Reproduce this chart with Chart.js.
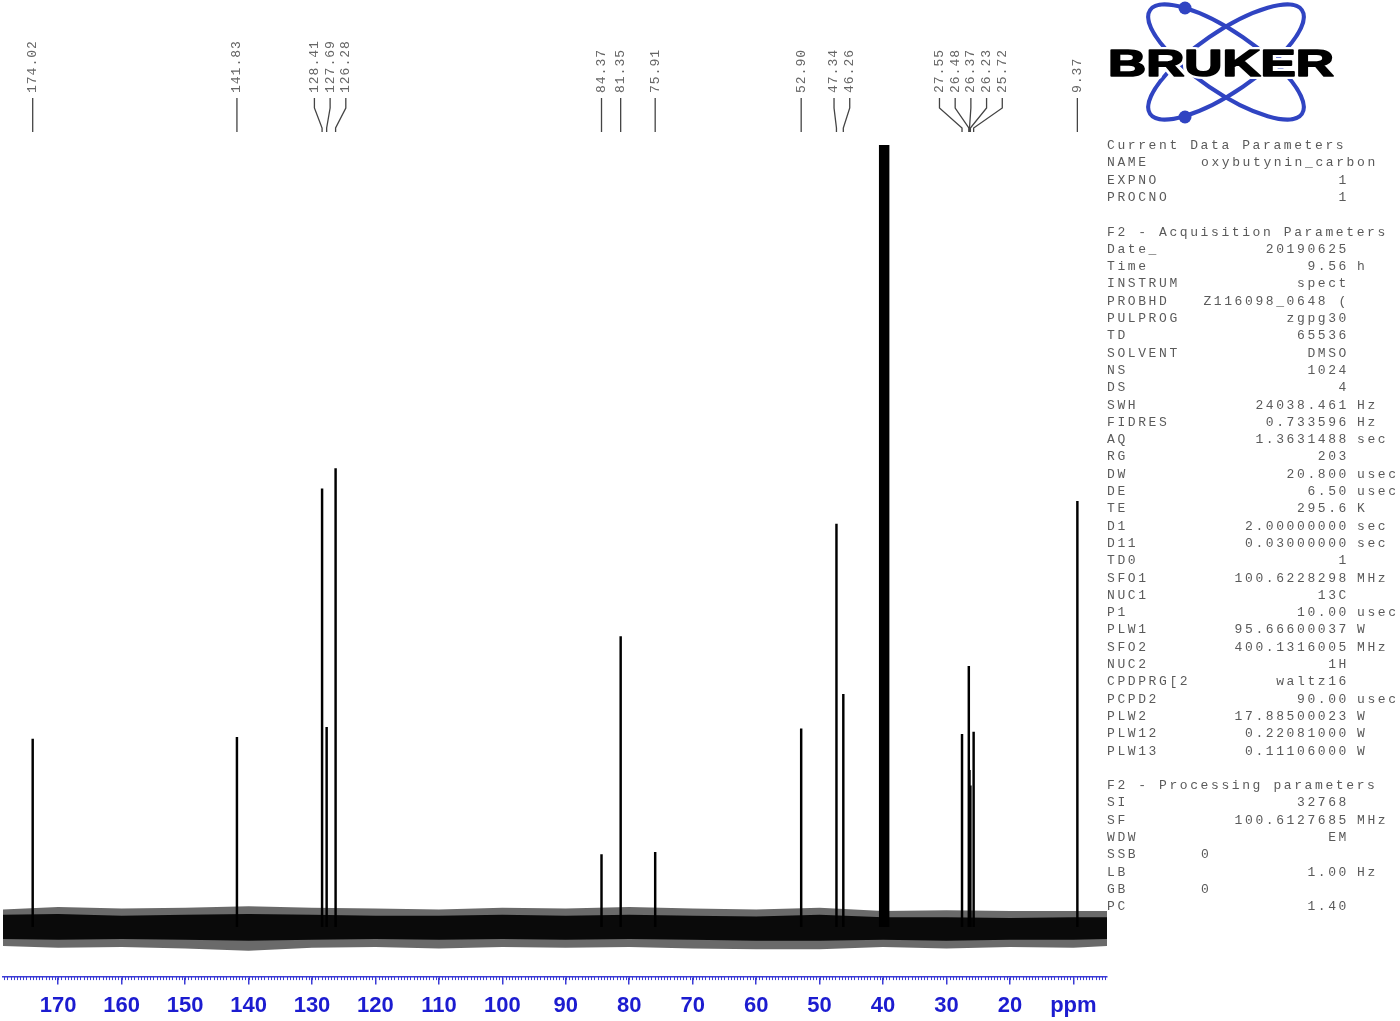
<!DOCTYPE html>
<html>
<head>
<meta charset="utf-8">
<title>oxybutynin 13C</title>
<script src="https://cdn.jsdelivr.net/npm/chart.js@4.4.1/dist/chart.umd.min.js"></script>
<style>
  body { margin: 0; background: #fff; }
  #wrap { position: relative; width: 1400px; height: 1021px; overflow: hidden; }
  #spec { position: absolute; left: 0; top: 0; }
  #params { position: absolute; left: 0; top: 0; width: 1400px; height: 1021px;
    font-family: "Liberation Mono", "DejaVu Sans Mono", monospace; font-size: 13px;
    color: #5a5a5a; letter-spacing: 2.6px; pointer-events: none; }
  .cell { position: absolute; height: 16px; line-height: 16px; white-space: pre; }
</style>
</head>
<body>
<div id="wrap">
  <canvas id="spec" width="1400" height="1021"></canvas>
  <div id="params"></div>
</div>
<script>
// x range of the plot (ppm, reversed)
const ppmMin = 4.7;
const ppmMax = 178.7;

// peaks: position (ppm) and height (relative, 100 = top of plot)
const peakPpm = [174.02, 141.83, 128.41, 127.69, 126.28, 84.37, 81.35, 75.91, 52.90, 47.34, 46.26,
  40.45, 40.24, 40.03, 39.82, 39.61, 39.40, 39.19,
  27.55, 26.48, 26.37, 26.23, 25.72, 9.37];
const peakHeight = [24.0, 24.2, 56.0, 25.5, 58.6, 9.2, 37.1, 9.5, 25.3, 51.5, 29.7,
  110, 250, 500, 600, 500, 250, 110,
  24.6, 33.3, 20.0, 18.0, 24.9, 54.4];

// peak picking labels at the top
const labelPpm = [174.02, 141.83, 128.41, 127.69, 126.28, 84.37, 81.35, 75.91, 52.90, 47.34, 46.26,
  27.55, 26.48, 26.37, 26.23, 25.72, 9.37];
const labelText = ["174.02", "141.83", "128.41", "127.69", "126.28", "84.37", "81.35", "75.91",
  "52.90", "47.34", "46.26", "27.55", "26.48", "26.37", "26.23", "25.72", "9.37"];

// axis tick labels
const tickValues = [170, 160, 150, 140, 130, 120, 110, 100, 90, 80, 70, 60, 50, 40, 30, 20, 10];

// baseline noise envelope
const noisePpm = [178.7, 170, 160, 150, 140, 130, 120, 110, 100, 90, 80, 70, 60, 50, 40, 30, 20, 10, 4.7];
const noiseHi  = [1.5, 1.6, 1.4, 1.5, 1.6, 1.5, 1.4, 1.4, 1.5, 1.4, 1.5, 1.4, 1.3, 1.5, 1.2, 1.2, 1.1, 1.2, 1.2];
const noiseLo  = [-1.6, -1.7, -1.6, -1.7, -1.8, -1.7, -1.6, -1.7, -1.6, -1.7, -1.6, -1.7, -1.8, -1.8, -1.7, -1.8, -1.7, -1.7, -1.6];
const spikeHi  = [2.2, 2.5, 2.3, 2.4, 2.6, 2.4, 2.3, 2.2, 2.4, 2.3, 2.5, 2.3, 2.2, 2.4, 2.0, 2.1, 2.0, 2.0, 2.0];
const spikeLo  = [-2.5, -2.7, -2.6, -2.8, -3.1, -2.7, -2.6, -2.8, -2.6, -2.7, -2.6, -2.8, -2.9, -2.9, -2.6, -2.8, -2.6, -2.7, -2.5];

// acquisition / processing parameters panel
const paramRows = [
  ["Current Data Parameters"],
  ["NAME", "oxybutynin_carbon", "", "left"],
  ["EXPNO", "1"],
  ["PROCNO", "1"],
  null,
  ["F2 - Acquisition Parameters"],
  ["Date_", "20190625"],
  ["Time", "9.56", "h"],
  ["INSTRUM", "spect"],
  ["PROBHD", "Z116098_0648 ("],
  ["PULPROG", "zgpg30"],
  ["TD", "65536"],
  ["SOLVENT", "DMSO"],
  ["NS", "1024"],
  ["DS", "4"],
  ["SWH", "24038.461", "Hz"],
  ["FIDRES", "0.733596", "Hz"],
  ["AQ", "1.3631488", "sec"],
  ["RG", "203"],
  ["DW", "20.800", "usec"],
  ["DE", "6.50", "usec"],
  ["TE", "295.6", "K"],
  ["D1", "2.00000000", "sec"],
  ["D11", "0.03000000", "sec"],
  ["TD0", "1"],
  ["SFO1", "100.6228298", "MHz"],
  ["NUC1", "13C"],
  ["P1", "10.00", "usec"],
  ["PLW1", "95.66600037", "W"],
  ["SFO2", "400.1316005", "MHz"],
  ["NUC2", "1H"],
  ["CPDPRG[2", "waltz16"],
  ["PCPD2", "90.00", "usec"],
  ["PLW2", "17.88500023", "W"],
  ["PLW12", "0.22081000", "W"],
  ["PLW13", "0.11106000", "W"],
  null,
  ["F2 - Processing parameters"],
  ["SI", "32768"],
  ["SF", "100.6127685", "MHz"],
  ["WDW", "EM"],
  ["SSB", "0", "", "mid"],
  ["LB", "1.00", "Hz"],
  ["GB", "0", "", "mid"],
  ["PC", "1.40"]
];

// build the text panel
const params = document.getElementById("params");
paramRows.forEach((row, i) => {
  if (!row) return;
  const top = 146 + i * 17.3 - 8;
  const add = (txt, style) => {
    const d = document.createElement("div");
    d.className = "cell";
    d.textContent = txt;
    d.style.top = top + "px";
    Object.assign(d.style, style);
    params.appendChild(d);
  };
  add(row[0], { left: "1107px" });
  if (row[1] === undefined) return;
  if (row[3] === "left" || row[3] === "mid") add(row[1], { left: "1201px" });
  else add(row[1], { left: "1100px", width: "249px", textAlign: "right" });
  if (row[2]) add(row[2], { left: "1357px" });
});

// minor ticks, peak labels and logo
const decorPlugin = {
  id: "decor",
  afterDraw(chart) {
    const ctx = chart.ctx;
    const xs = chart.scales.x;
    const axisY = chart.chartArea.bottom;

    // minor ticks every 0.5 ppm
    ctx.save();
    ctx.strokeStyle = "#3b3bd6";
    ctx.lineWidth = 1;
    for (let v = 5; v <= 178.5; v += 0.5) {
      const px = Math.round(xs.getPixelForValue(v)) + 0.5;
      ctx.beginPath();
      ctx.moveTo(px, axisY);
      ctx.lineTo(px, axisY + 3.5);
      ctx.stroke();
    }
    ctx.restore();

    // peak labels with leader lines
    const gap = 15.7;
    const items = labelPpm.map((p, i) => ({ text: labelText[i], px: xs.getPixelForValue(p) }));
    items.sort((a, b) => a.px - b.px);
    const groups = [];
    items.forEach(it => {
      const g = groups[groups.length - 1];
      if (g && it.px - g[g.length - 1].px < gap) g.push(it);
      else groups.push([it]);
    });
    groups.forEach(g => {
      const mean = g.reduce((s, it) => s + it.px, 0) / g.length;
      g.forEach((it, k) => { it.lx = mean + 2 + (k - (g.length - 1) / 2) * gap; });
      if (g.length === 1) g[0].lx = g[0].px;
    });
    ctx.save();
    ctx.strokeStyle = "#444";
    ctx.lineWidth = 1.3;
    items.forEach(it => {
      ctx.beginPath();
      ctx.moveTo(it.lx, 98);
      if (Math.abs(it.lx - it.px) < 1) {
        ctx.lineTo(it.px, 132);
      } else {
        ctx.lineTo(it.lx, 108);
        ctx.lineTo(it.px, 128);
        ctx.lineTo(it.px, 132);
      }
      ctx.stroke();
      ctx.save();
      ctx.translate(it.lx, 93);
      ctx.rotate(-Math.PI / 2);
      ctx.font = '13px "Liberation Mono"';
      ctx.letterSpacing = "1px";
      ctx.fillStyle = "#666";
      ctx.textAlign = "left";
      ctx.textBaseline = "middle";
      ctx.fillText(it.text, 0, 0);
      ctx.restore();
    });
    ctx.restore();

    // Bruker logo
    ctx.save();
    ctx.strokeStyle = "#3044c2";
    ctx.lineWidth = 4;
    ctx.beginPath();
    ctx.ellipse(1226, 62, 92, 30, 0.6, 0, 2 * Math.PI);
    ctx.stroke();
    ctx.beginPath();
    ctx.ellipse(1226, 62, 92, 30, -0.6, 0, 2 * Math.PI);
    ctx.stroke();
    ctx.fillStyle = "#3044c2";
    ctx.beginPath(); ctx.arc(1185, 8, 6.5, 0, 2 * Math.PI); ctx.fill();
    ctx.beginPath(); ctx.arc(1185, 117, 6.5, 0, 2 * Math.PI); ctx.fill();
    ctx.font = 'bold 36px "Liberation Sans"';
    const w = ctx.measureText("BRUKER").width;
    ctx.translate(1108, 76);
    ctx.scale(226 / w, 1);
    ctx.lineJoin = "round";
    ctx.strokeStyle = "#fff";
    ctx.lineWidth = 6;
    ctx.strokeText("BRUKER", 0, 0);
    ctx.fillStyle = "#000";
    ctx.fillText("BRUKER", 0, 0);
    ctx.strokeStyle = "#000";
    ctx.lineWidth = 1.6;
    ctx.strokeText("BRUKER", 0, 0);
    ctx.restore();
  }
};

const toXY = (xArr, yArr) => xArr.map((x, i) => ({ x: x, y: yArr[i] }));

new Chart(document.getElementById("spec"), {
  type: "bar",
  data: {
    datasets: [
      {
        type: "bar",
        data: toXY(peakPpm, peakHeight),
        backgroundColor: "#000",
        barThickness: 1.8,
        order: 0
      },
      {
        type: "line",
        data: toXY(noisePpm, spikeHi),
        borderWidth: 0,
        pointRadius: 0,
        backgroundColor: "#6a6a6a",
        fill: "+1",
        order: 2
      },
      {
        type: "line",
        data: toXY(noisePpm, spikeLo),
        borderWidth: 0,
        pointRadius: 0,
        fill: false,
        order: 2
      },
      {
        type: "line",
        data: toXY(noisePpm, noiseHi),
        borderWidth: 0,
        pointRadius: 0,
        backgroundColor: "#0a0a0a",
        fill: "+1",
        order: 1
      },
      {
        type: "line",
        data: toXY(noisePpm, noiseLo),
        borderWidth: 0,
        pointRadius: 0,
        fill: false,
        order: 1
      }
    ]
  },
  options: {
    responsive: false,
    animation: false,
    layout: { padding: { left: 3, right: 293, top: 145, bottom: -6 } },
    plugins: { legend: { display: false }, tooltip: { enabled: false } },
    scales: {
      x: {
        type: "linear",
        reverse: true,
        offset: false,
        min: ppmMin,
        max: ppmMax,
        border: { color: "#3b3bd6", width: 1.5 },
        grid: { offset: false, drawOnChartArea: false, color: "#3b3bd6", tickLength: 8, lineWidth: 1.5 },
        afterBuildTicks: scale => { scale.ticks = tickValues.map(v => ({ value: v })); },
        ticks: {
          autoSkip: false,
          maxRotation: 0,
          padding: 8,
          color: "#1c1cd0",
          font: { family: "Liberation Sans", size: 22, weight: "bold" },
          callback: v => (v === 10 ? "ppm" : v)
        }
      },
      y: {
        display: false,
        min: -6.4,
        max: 100
      }
    }
  },
  plugins: [decorPlugin]
});
</script>
</body>
</html>
